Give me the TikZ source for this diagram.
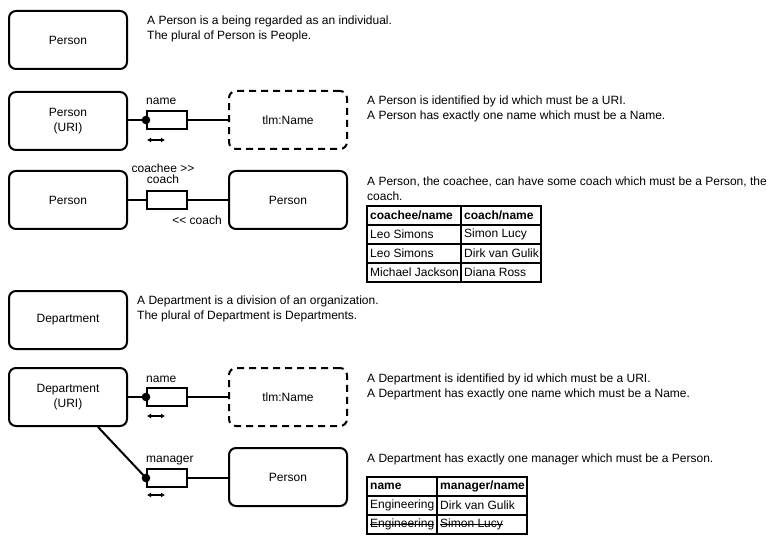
\documentclass[tikz,border=0pt]{standalone}
\usepackage{fontspec}
\setmainfont{Liberation Sans}
\usetikzlibrary{arrows.meta}

\tikzset{
	thing/.style={draw, line width=2pt, rounded corners=7pt, minimum width=118pt, minimum height=58pt, align=center, font=\fontsize{12}{15}\selectfont},
	valuetype/.style={thing, dash pattern=on 7pt off 5pt},
	role/.style={draw, line width=2pt, minimum width=40pt, minimum height=18pt, inner sep=0pt},
	link/.style={line width=2pt},
	info/.style={anchor=north west, inner sep=0pt, align=left, font=\fontsize{12}{15}\selectfont},
	tag/.style={inner sep=0pt, align=center, font=\fontsize{12}{11}\selectfont},
	cell/.style={anchor=west, inner sep=0pt, font=\fontsize{12}{14}\selectfont},
	grid/.style={line width=1.2pt},
	strike/.style={line width=0.7pt},
	dir/.style={{Latex[length=4pt,width=5pt]}-{Latex[length=4pt,width=5pt]}, line width=1.1pt}
}

\begin{document}
\begin{tikzpicture}[x=1pt,y=-1pt]
	\useasboundingbox (0,0) rectangle (784,545);

	%person
	\node[thing] (person) at (68,40) {Person};
	\node[info] (persondesc) at (147,16) {A Person is a being regarded as an individual.\\The plural of Person is People.};

	%person name
	\node[thing] (personid) at (68,121) {Person\\(URI)};
	\node[role] (pname) at (167,120) {};
	\node[valuetype] (pnametype) at (288,120) {tlm:Name};
	\draw[link] (personid.east |- pname.west) -- (pname.west);
	\draw[link] (pname.east) -- (pnametype.west |- pname.east);
	\fill (pname.west) circle (4.3);
	\node[tag, anchor=base west] (pnamelbl) at ([yshift=5pt]pname.north west) {name};
	\draw[dir] ([xshift=1pt,yshift=-10pt]pname.south west) coordinate (pnamea) -- ([xshift=18pt]pnamea);
	\node[info] (pnamedesc) at (367,96) {A Person is identified by id which must be a URI.\\A Person has exactly one name which must be a Name.};

	%coach
	\node[thing] (coachee) at (68,200) {Person};
	\node[role] (coach) at (167,200) {};
	\node[thing] (coachp) at (288,200) {Person};
	\draw[link] (coachee.east) -- (coach.west);
	\draw[link] (coach.east) -- (coachp.west);
	\node[tag] (coachlbl) at (163,174) {coachee >{}>\\coach};
	\node[tag] (coachrev) at (197,220) {<{}< coach};
	\node[info] (coachdesc) at (367,177) {A Person, the coachee, can have some coach which must be a Person, the\\coach.};

	%coach table
	\draw[grid] (367,206) rectangle (541,282);
	\foreach \y in {225,244,263}
		\draw[grid] (367,\y) -- (541,\y);
	\draw[grid] (461,206) -- (461,282);
	\node[cell] (c11) at (370,215.5) {\textbf{coachee/name}};
	\node[cell] (c12) at (464,215.5) {\textbf{coach/name}};
	\node[cell] (c21) at (370,234.5) {Leo Simons};
	\node[cell] (c22) at (464,234.5) {Simon Lucy};
	\node[cell] (c31) at (370,253.5) {Leo Simons};
	\node[cell] (c32) at (464,253.5) {Dirk van Gulik};
	\node[cell] (c41) at (370,272.5) {Michael Jackson};
	\node[cell] (c42) at (464,272.5) {Diana Ross};

	%department
	\node[thing] (dept) at (68,320) {Department};
	\node[info] (deptdesc) at (137,296) {A Department is a division of an organization.\\The plural of Department is Departments.};

	%department name
	\node[thing] (deptid) at (68,397) {Department\\(URI)};
	\node[role] (dname) at (167,397) {};
	\node[valuetype] (dnametype) at (288,397) {tlm:Name};
	\draw[link] (deptid.east |- dname.west) -- (dname.west);
	\draw[link] (dname.east) -- (dnametype.west |- dname.east);
	\fill (dname.west) circle (4.3);
	\node[tag, anchor=base west] (dnamelbl) at ([yshift=5pt]dname.north west) {name};
	\draw[dir] ([xshift=1pt,yshift=-9pt]dname.south west) coordinate (dnamea) -- ([xshift=18pt]dnamea);
	\node[info] (dnamedesc) at (367,374) {A Department is identified by id which must be a URI.\\A Department has exactly one name which must be a Name.};

	%manager
	\node[role] (mgr) at (167,478) {};
	\node[thing] (mgrp) at (288,477) {Person};
	\draw[link] ([xshift=30pt]deptid.south) -- (mgr.west);
	\draw[link] (mgr.east) -- (mgrp.west |- mgr.east);
	\fill (mgr.west) circle (4.3);
	\node[tag, anchor=base west] (mgrlbl) at ([yshift=6pt]mgr.north west) {manager};
	\draw[dir] ([xshift=1pt,yshift=-7pt]mgr.south west) coordinate (mgra) -- ([xshift=18pt]mgra);
	\node[info] (mgrdesc) at (367,454) {A Department has exactly one manager which must be a Person.};

	%manager table
	\draw[grid] (367,477) rectangle (527,534);
	\foreach \y in {496,515}
		\draw[grid] (367,\y) -- (527,\y);
	\draw[grid] (437,477) -- (437,534);
	\node[cell] (m11) at (370,486.5) {\textbf{name}};
	\node[cell] (m12) at (440,486.5) {\textbf{manager/name}};
	\node[cell] (m21) at (370,505.5) {Engineering};
	\node[cell] (m22) at (440,505.5) {Dirk van Gulik};
	\node[cell] (m31) at (370,524.5) {Engineering};
	\node[cell] (m32) at (440,524.5) {Simon Lucy};
	\draw[strike] ([yshift=3.5pt]m31.base west) -- ([yshift=3.5pt]m31.base east);
	\draw[strike] ([yshift=3.5pt]m32.base west) -- ([yshift=3.5pt]m32.base east);
\end{tikzpicture}
\end{document}
